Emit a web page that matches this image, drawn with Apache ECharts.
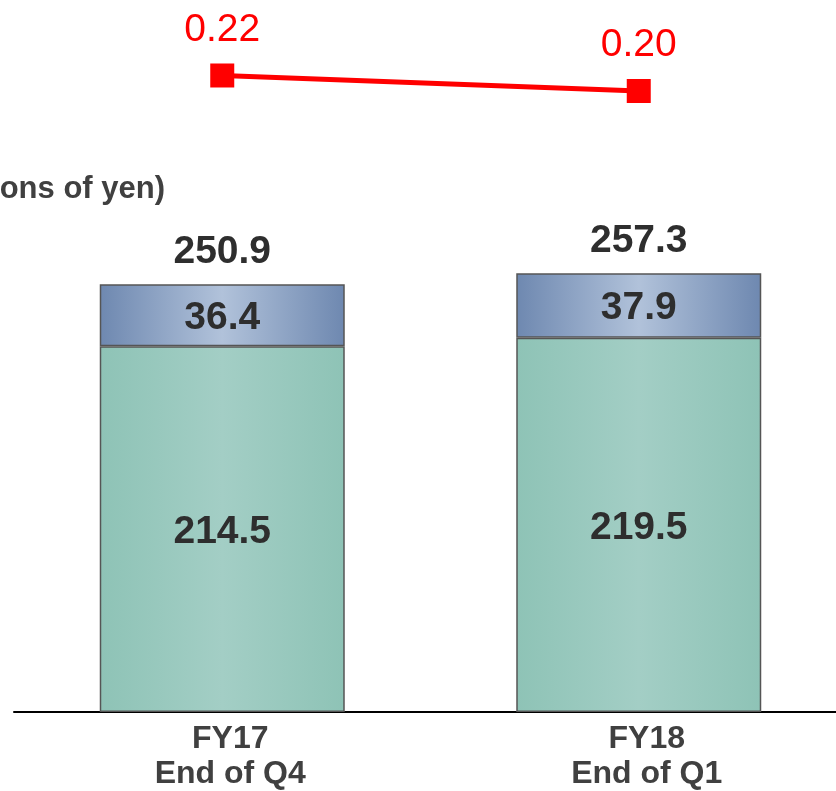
<!DOCTYPE html>
<html>
<head>
<meta charset="utf-8">
<style>
  html, body { margin: 0; padding: 0; background: #ffffff; }
  #chart { width: 836px; height: 791px; }
</style>
<script src="https://cdn.jsdelivr.net/npm/echarts@6/dist/echarts.min.js"></script>
</head>
<body>
<div id="chart"></div>
<script>
// Period labels on the horizontal axis
const categories = ['FY17\nEnd of Q4', 'FY18\nEnd of Q1'];
// Lower (green) and upper (blue) stacked segments, billions of yen
const lowerValues = [214.5, 219.5];
const upperValues = [36.4, 37.9];
// Totals printed above each stack
const totalValues = [250.9, 257.3];
// Ratio shown by the red line above the bars
const ratioValues = [0.22, 0.20];
const ratioLabels = ['0.22', '0.20'];
const unitTitle = '(Billions of yen)';

const FONT = '"Liberation Sans", Arial, sans-serif';

function hGradient(edge, mid) {
  return new echarts.graphic.LinearGradient(0, 0, 1, 0, [
    { offset: 0, color: edge },
    { offset: 0.5, color: mid },
    { offset: 1, color: edge }
  ]);
}

const valueLabel = {
  show: true,
  position: 'inside',
  offset: [0, 3],
  fontFamily: FONT,
  fontWeight: 'bold',
  fontSize: 39,
  color: '#2e2e2e'
};

const chart = echarts.init(document.getElementById('chart'), null, { renderer: 'canvas' });

chart.setOption({
  animation: false,
  backgroundColor: '#ffffff',
  grid: {
    left: 14, right: -11, top: 30, bottom: 79,
    containLabel: false,
    outerBoundsMode: 'none'
  },
  xAxis: {
    type: 'category',
    data: categories,
    axisLine: { show: true, lineStyle: { color: '#000000', width: 2 } },
    axisTick: { show: false },
    axisLabel: {
      margin: 10,
      padding: [0, 0, 0, 16],
      fontFamily: FONT,
      fontWeight: 'bold',
      fontSize: 32,
      lineHeight: 35,
      color: '#404040'
    }
  },
  yAxis: [
    { type: 'value', min: 0, max: 400, show: false },
    { type: 'value', min: -0.6013, max: 0.2787, show: false }
  ],
  graphic: [
    {
      type: 'text',
      x: 165,
      y: 189,
      style: {
        text: unitTitle,
        align: 'right',
        verticalAlign: 'middle',
        font: 'bold 31px ' + FONT,
        fill: '#404040'
      }
    }
  ],
  series: [
    {
      name: 'lower',
      type: 'bar',
      stack: 'total',
      barWidth: 245,
      data: lowerValues,
      itemStyle: {
        color: hGradient('#8ec3b6', '#a3cec5'),
        borderColor: '#555555',
        borderWidth: 1.5
      },
      label: valueLabel
    },
    {
      name: 'upper',
      type: 'bar',
      stack: 'total',
      barWidth: 245,
      data: upperValues,
      itemStyle: {
        color: hGradient('#6e88b0', '#b1c2da'),
        borderColor: '#555555',
        borderWidth: 1.5
      },
      label: valueLabel
    },
    {
      // invisible carrier for the stack totals, placed on top of each stack
      name: 'totalLabel',
      type: 'bar',
      stack: 'total',
      barWidth: 245,
      data: totalValues.map(() => 0),
      itemStyle: { color: 'transparent' },
      label: {
        show: true,
        position: 'top',
        distance: 12,
        formatter: p => totalValues[p.dataIndex].toFixed(1),
        fontFamily: FONT,
        fontWeight: 'bold',
        fontSize: 39,
        color: '#2e2e2e'
      }
    },
    {
      name: 'ratio',
      type: 'line',
      yAxisIndex: 1,
      data: ratioValues,
      symbol: 'rect',
      symbolSize: 24,
      lineStyle: { color: '#ff0000', width: 5 },
      itemStyle: { color: '#ff0000' },
      label: {
        show: true,
        position: 'top',
        distance: 14,
        formatter: p => ratioLabels[p.dataIndex],
        fontFamily: FONT,
        fontSize: 39,
        color: '#ff0000'
      }
    }
  ]
});
</script>
</body>
</html>
